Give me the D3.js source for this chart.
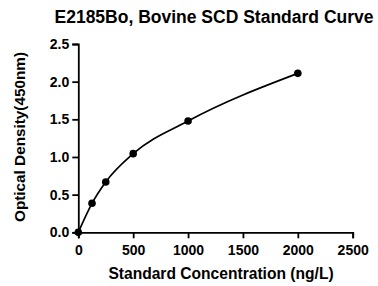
<!DOCTYPE html>
<html><head><meta charset="utf-8">
<script src="https://cdn.jsdelivr.net/npm/d3@7"></script>
<style>body{margin:0;background:#fff}svg{display:block}text{font-family:Arial,"Liberation Sans",sans-serif;font-weight:bold;fill:#000}</style>
</head><body>
<script>
const concentrations = [0, 125, 250, 500, 1000, 2000];
const odValues = [0, 0.385, 0.668, 1.044, 1.478, 2.11];
const xTicks = [0, 500, 1000, 1500, 2000, 2500];
const yTicks = [0, 0.5, 1.0, 1.5, 2.0, 2.5];

const W = 378, H = 286;
const svg = d3.select("body").append("svg").attr("width", W).attr("height", H);
const x = d3.scaleLinear().domain([0, 2500]).range([78.3, 352.7]);
const y = d3.scaleLinear().domain([0, 2.5]).range([232.3, 44]);

const xAxis = svg.append("g").attr("transform", `translate(0,${y(0)})`)
  .call(d3.axisBottom(x).tickValues(xTicks).tickFormat(d3.format("d")).tickSize(6).tickPadding(7));
const yAxis = svg.append("g").attr("transform", `translate(${x(0)},0)`)
  .call(d3.axisLeft(y).tickValues(yTicks).tickFormat(d3.format(".1f")).tickSize(6).tickPadding(3));
[xAxis, yAxis].forEach(g => {
  g.selectAll("path").attr("stroke", "#000").attr("stroke-width", 1.8);
  g.selectAll("line").attr("stroke", "#000").attr("stroke-width", 1.8);
  g.selectAll("text").style("font-size", "14px").style("font-weight", "bold").attr("fill", "#000");
});

const pts = concentrations.map((c, i) => [c, odValues[i]]);
svg.append("path").datum(pts)
  .attr("d", d3.line().x(d => x(d[0])).y(d => y(d[1])).curve(d3.curveMonotoneX))
  .attr("fill", "none").attr("stroke", "#000").attr("stroke-width", 1.7);
svg.selectAll("circle.pt").data(pts).enter().append("circle")
  .attr("cx", d => x(d[0])).attr("cy", d => y(d[1])).attr("r", 3.8).attr("fill", "#000");

svg.append("text").attr("x", 214).attr("y", 23).attr("text-anchor", "middle")
  .style("font-size", "17.5px").text("E2185Bo, Bovine SCD Standard Curve");
svg.append("text").attr("x", 221).attr("y", 279).attr("text-anchor", "middle")
  .style("font-size", "15.6px").text("Standard Concentration (ng/L)");
svg.append("text").attr("transform", "translate(24.5,137) rotate(-90)").attr("text-anchor", "middle")
  .style("font-size", "15.3px").text("Optical Density(450nm)");
</script>
</body></html>
